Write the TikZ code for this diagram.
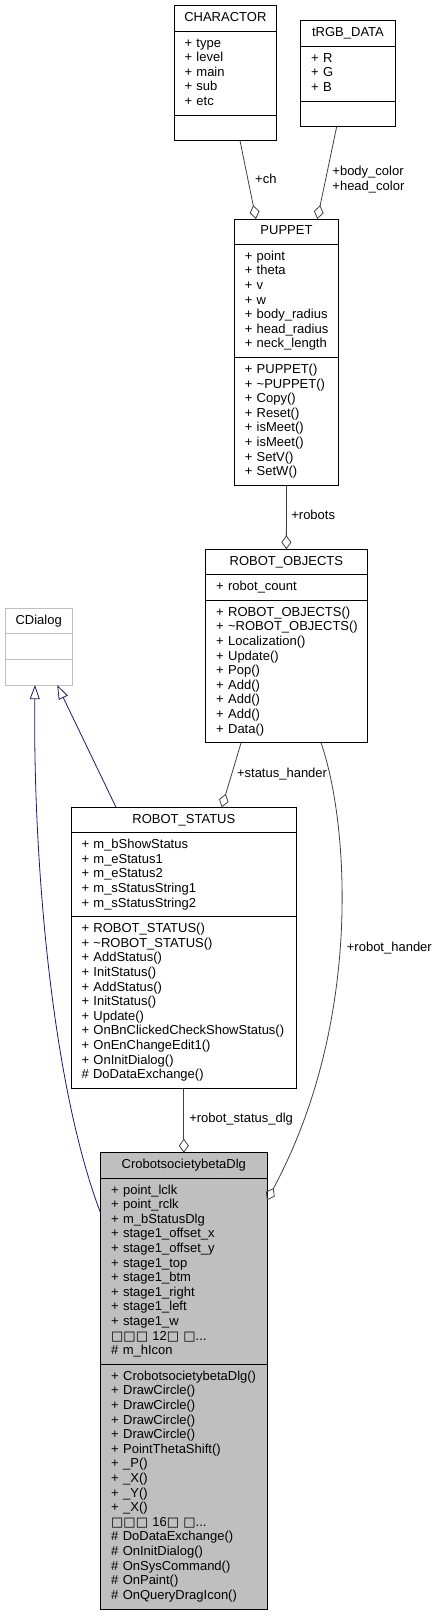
\documentclass[tikz,border=0pt]{standalone}
\usepackage{fontspec}
\setmainfont{Liberation Sans}
\newfontfamily\boxfont{DejaVu Sans}
\usetikzlibrary{arrows.meta,positioning}
\definecolor{edgegray}{HTML}{404040}
\definecolor{inhblue}{HTML}{191970}
\definecolor{dlgfill}{HTML}{BFBFBF}
\definecolor{extgray}{HTML}{BFBFBF}

\begin{document}
\begin{tikzpicture}[x=1pt,y=-1pt,
  font=\fontsize{13pt}{14.6pt}\selectfont,
  hd/.style={draw,fill=white,line width=0.9pt,outer sep=0pt,inner xsep=0pt,inner ysep=5.5pt,
    anchor=north west,execute at begin node=\strut},
  sec/.style={draw,fill=white,line width=0.9pt,outer sep=0pt,inner xsep=10.5pt,inner ysep=5.5pt,
    align=left,execute at begin node=\noindent\strut,execute at end node=\strut},
  ext/.style={draw=extgray},
  cur/.style={fill=dlgfill},
  lbl/.style={inner sep=0pt,anchor=west,align=left},
  agg/.style={draw=edgegray,line width=0.8pt,-{Diamond[open,length=14pt,width=10pt]}},
  inh/.style={draw=inhblue,line width=0.8pt,-{Triangle[open,length=14pt,width=10pt]}}]
\useasboundingbox (0,0) rectangle (436,1616);

% --- classes, top to bottom ---
\node[hd,minimum width=102.7pt] (ch) at (174,5.7) {CHARACTOR};
\node[sec,text width=81.7pt,below=0pt of ch] (chA) {+~type\\+~level\\+~main\\+~sub\\+~etc};
\node[sec,text width=81.7pt,below=0pt of chA] (chM) {};

\node[hd,minimum width=94.6pt] (rgb) at (300.7,20.7) {tRGB\_DATA};
\node[sec,text width=73.6pt,below=0pt of rgb] (rgbA) {+~R\\+~G\\+~B};
\node[sec,text width=73.6pt,below=0pt of rgbA] (rgbM) {};

\node[hd,minimum width=104.4pt] (pup) at (234.3,219) {PUPPET};
\node[sec,text width=83.4pt,below=0pt of pup] (pupA)
  {+~point\\+~theta\\+~v\\+~w\\+~body\_radius\\+~head\_radius\\+~neck\_length};
\node[sec,text width=83.4pt,below=0pt of pupA] (pupM)
  {+~PUPPET()\\+~\textasciitilde PUPPET()\\+~Copy()\\+~Reset()\\+~isMeet()\\+~isMeet()\\+~SetV()\\+~SetW()};

\node[hd,minimum width=161.3pt] (robj) at (205.7,549.3) {ROBOT\_OBJECTS};
\node[sec,text width=140.3pt,below=0pt of robj] (robjA) {+~robot\_count};
\node[sec,text width=140.3pt,below=0pt of robjA] (robjM)
  {+~ROBOT\_OBJECTS()\\+~\textasciitilde ROBOT\_OBJECTS()\\+~Localization()\\+~Update()\\+~Pop()\\+~Add()\\+~Add()\\+~Add()\\+~Data()};

\node[hd,ext,minimum width=66.7pt] (cdlg) at (5.3,608.3) {CDialog};
\node[sec,ext,text width=45.7pt,below=0pt of cdlg] (cdlgA) {};
\node[sec,ext,text width=45.7pt,below=0pt of cdlgA] (cdlgM) {};

\node[hd,minimum width=225.7pt] (rst) at (71,807.3) {ROBOT\_STATUS};
\node[sec,text width=204.7pt,below=0pt of rst] (rstA)
  {+~m\_bShowStatus\\+~m\_eStatus1\\+~m\_eStatus2\\+~m\_sStatusString1\\+~m\_sStatusString2};
\node[sec,text width=204.7pt,below=0pt of rstA] (rstM)
  {+~ROBOT\_STATUS()\\+~\textasciitilde ROBOT\_STATUS()\\+~AddStatus()\\+~InitStatus()\\+~AddStatus()\\+~InitStatus()\\+~Update()\\+~OnBnClickedCheckShowStatus()\\+~OnEnChangeEdit1()\\+~OnInitDialog()\\\#~DoDataExchange()};

\node[hd,cur,minimum width=166.3pt] (dlg) at (100.7,1152.7) {CrobotsocietybetaDlg};
\node[sec,cur,text width=145.3pt,below=0pt of dlg] (dlgA)
  {+~point\_lclk\\+~point\_rclk\\+~m\_bStatusDlg\\+~stage1\_offset\_x\\+~stage1\_offset\_y\\+~stage1\_top\\+~stage1\_btm\\+~stage1\_right\\+~stage1\_left\\+~stage1\_w\\{\boxfont □□□}~12{\boxfont □}~{\boxfont □}...\\\#~m\_hIcon};
\node[sec,cur,text width=145.3pt,below=0pt of dlgA] (dlgM)
  {+~CrobotsocietybetaDlg()\\+~DrawCircle()\\+~DrawCircle()\\+~DrawCircle()\\+~DrawCircle()\\+~PointThetaShift()\\+~\_P()\\+~\_X()\\+~\_Y()\\+~\_X()\\{\boxfont □□□}~16{\boxfont □}~{\boxfont □}...\\\#~DoDataExchange()\\\#~OnInitDialog()\\\#~OnSysCommand()\\\#~OnPaint()\\\#~OnQueryDragIcon()};

% --- members (open diamond at the owner) ---
\draw[agg] ([xshift=14.7pt]chM.south) -- ([xshift=-30.5pt]pup.north)
  node[lbl,pos=0.485,xshift=7pt] {+ch};
\draw[agg] ([xshift=-11.3pt]rgbM.south) -- ([xshift=30.8pt]pup.north)
  node[lbl,pos=0.57,xshift=6.4pt] {+body\_color\\+head\_color};
\draw[agg] (pupM.south) -- (robj.north) node[lbl,pos=0.46,xshift=4.5pt] {+robots};
\draw[agg] ([xshift=-45.3pt]robjM.south) -- ([xshift=37.9pt]rst.north)
  node[lbl,pos=0.487,xshift=5pt] {+status\_hander};
\draw[agg] ([xshift=34.7pt]robjM.south) .. controls (348,820) and (364,1020) .. ([yshift=-22pt]dlgA.north east)
  node[lbl,pos=0.53,xshift=7pt] {+robot\_hander};
\draw[agg] (rstM.south) -- (dlg.north) node[lbl,pos=0.48,xshift=5pt] {+robot\_status\_dlg};

% --- inheritance ---
\draw[inh] ([xshift=-67.8pt]rst.north) -- ([xshift=18.6pt]cdlgM.south);
\draw[inh] ([yshift=-35pt]dlgA.north west) .. controls (50,1080) and (33,850) .. ([xshift=-3.7pt]cdlgM.south);
\end{tikzpicture}
\end{document}
